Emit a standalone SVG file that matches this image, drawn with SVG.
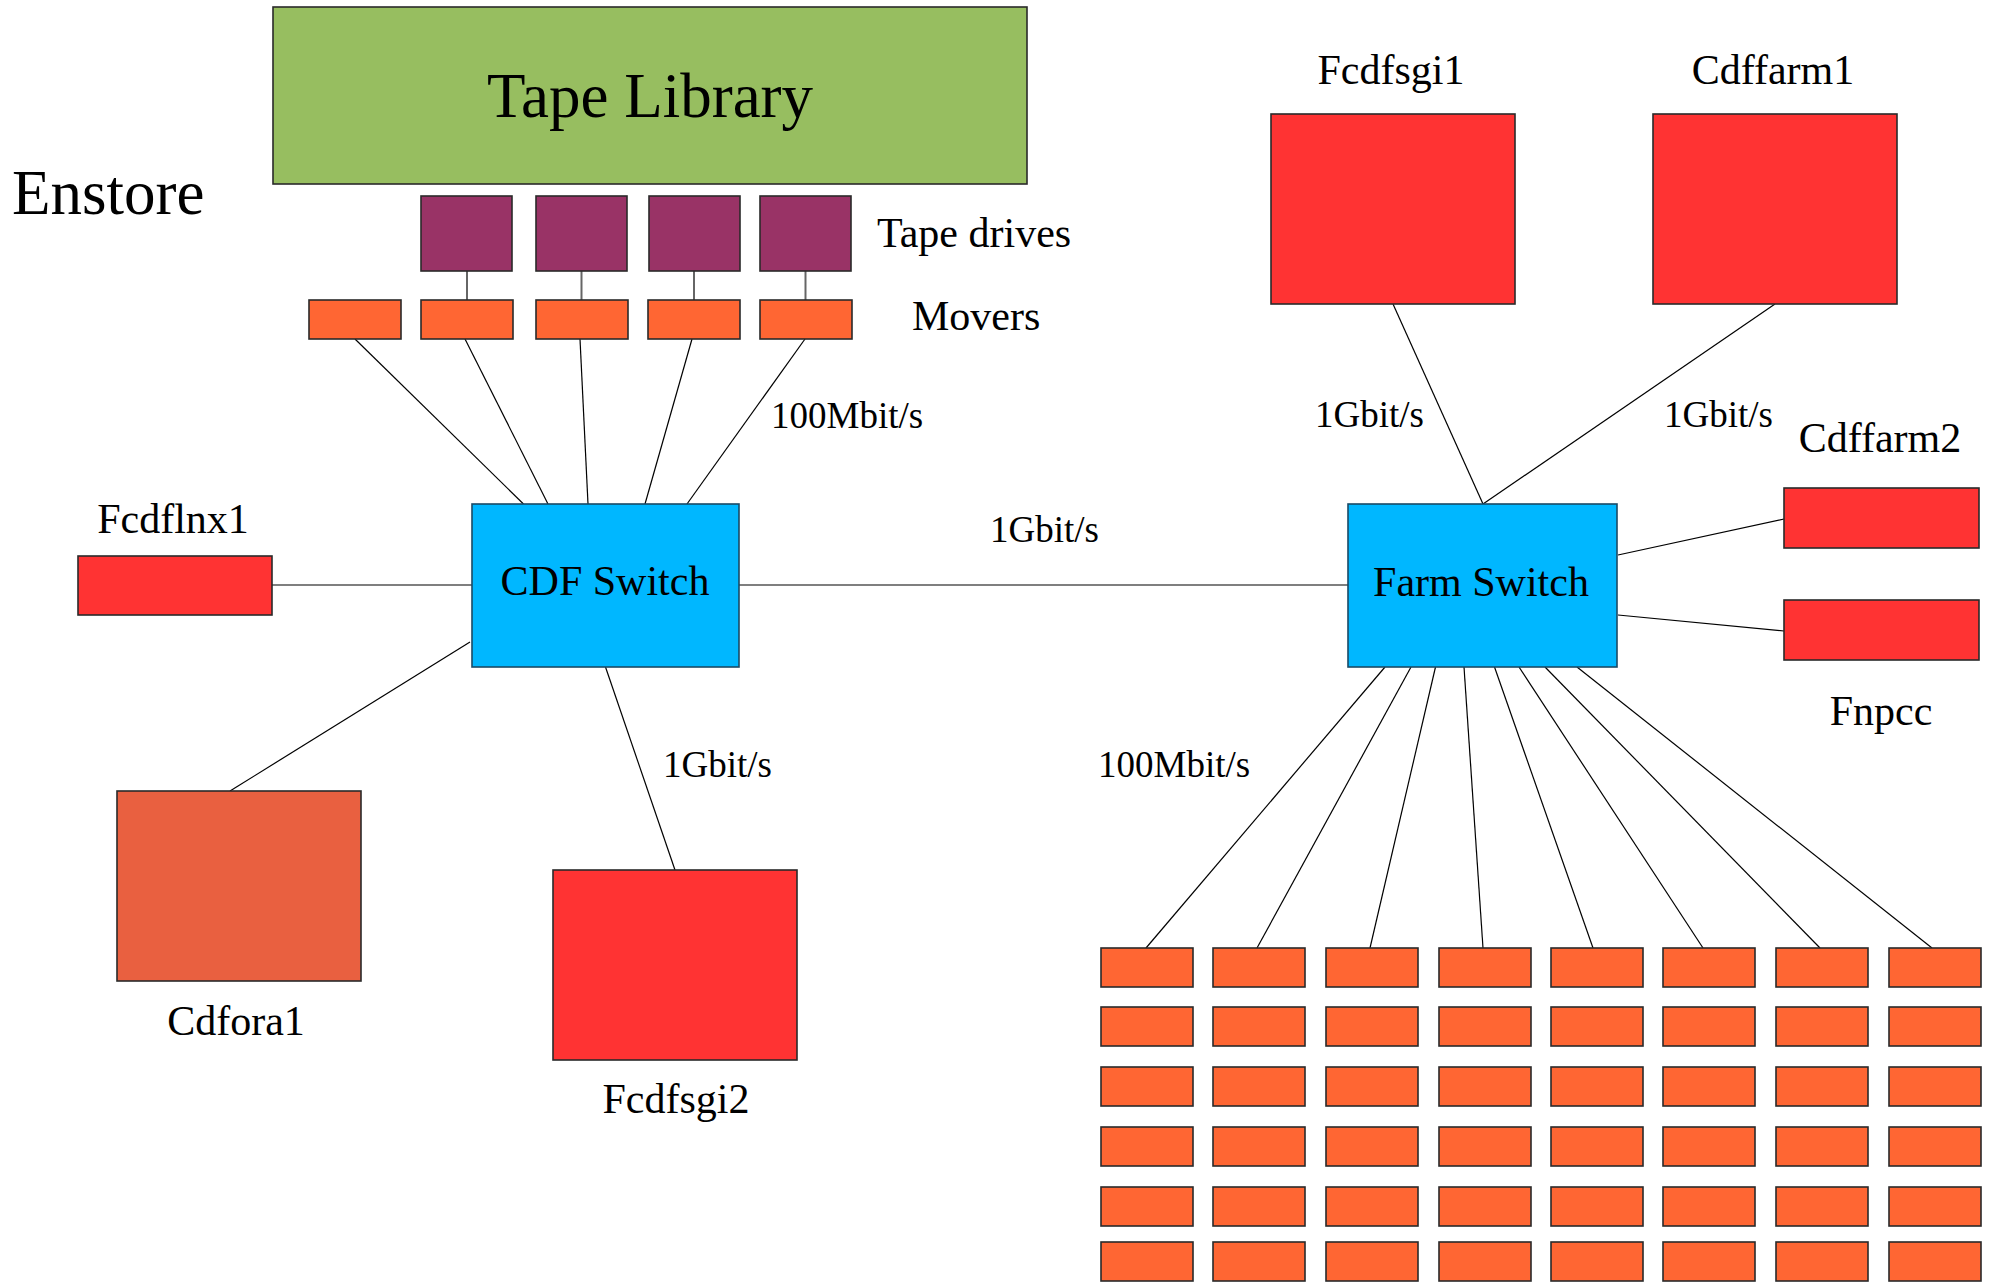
<svg xmlns="http://www.w3.org/2000/svg" width="1992" height="1283" viewBox="0 0 1992 1283">
<style>
text{font-family:"Liberation Serif","Times New Roman",serif;fill:#000}
.big{font-size:63px}
.lbl{font-size:42px}
.lnk{font-size:37px}
.mid{text-anchor:middle}
rect{stroke:#2a2a2a;stroke-width:1.6}
.lib{fill:#97BE60}
.drv{fill:#993366}
.mov{fill:#FF6633}
.red{fill:#FF3333}
.ora{fill:#E96040}
.sw{fill:#00B7FF;stroke:#1a4a66}
#connectors line{stroke:#000;stroke-width:1.2}
#connectors line.v{stroke:#666;stroke-width:2}
</style>
<defs>
<rect id="m" width="92" height="39" class="mov"/>
</defs>
<g id="connectors">
<line class="v" x1="467" y1="271" x2="467" y2="300"/>
<line class="v" x1="581.5" y1="271" x2="581.5" y2="300"/>
<line class="v" x1="694" y1="271" x2="694" y2="300"/>
<line class="v" x1="805.5" y1="271" x2="805.5" y2="300"/>
<line x1="355" y1="339" x2="523.5" y2="504"/>
<line x1="465" y1="339" x2="548" y2="504"/>
<line x1="580" y1="339" x2="588" y2="504"/>
<line x1="692" y1="339" x2="645" y2="504"/>
<line x1="805" y1="339" x2="687" y2="504"/>
<line x1="272" y1="585" x2="472" y2="585"/>
<line x1="739" y1="585" x2="1348" y2="585"/>
<line x1="470" y1="642" x2="230" y2="791"/>
<line x1="605.5" y1="667" x2="675" y2="870"/>
<line x1="1393" y1="304" x2="1483" y2="504"/>
<line x1="1775" y1="304" x2="1483" y2="504"/>
<line x1="1618" y1="555" x2="1784" y2="519"/>
<line x1="1618" y1="615" x2="1784" y2="631"/>
<line x1="1385" y1="667" x2="1146" y2="948"/>
<line x1="1411" y1="667" x2="1257" y2="948"/>
<line x1="1435.5" y1="667" x2="1370" y2="948"/>
<line x1="1464" y1="667" x2="1483" y2="948"/>
<line x1="1494.5" y1="667" x2="1593" y2="948"/>
<line x1="1519" y1="667" x2="1703" y2="948"/>
<line x1="1545" y1="667" x2="1820" y2="948"/>
<line x1="1577" y1="667" x2="1932" y2="948"/>
</g>
<g id="tape-library"><rect class="lib" x="273" y="7" width="754" height="177"/><text class="big mid" x="650" y="117">Tape Library</text></g>
<text id="enstore" class="big" x="12" y="214">Enstore</text>
<g id="tape-drives">
<rect class="drv" x="421" y="196" width="91" height="75"/>
<rect class="drv" x="536" y="196" width="91" height="75"/>
<rect class="drv" x="649" y="196" width="91" height="75"/>
<rect class="drv" x="760" y="196" width="91" height="75"/>
<text class="lbl" x="877" y="247">Tape drives</text>
</g>
<g id="movers">
<use href="#m" x="309" y="300"/>
<use href="#m" x="421" y="300"/>
<use href="#m" x="536" y="300"/>
<use href="#m" x="648" y="300"/>
<use href="#m" x="760" y="300"/>
<text class="lbl" x="912" y="330">Movers</text>
</g>
<g id="cdf-switch"><rect class="sw" x="472" y="504" width="267" height="163"/><text class="lbl mid" x="605" y="595">CDF Switch</text></g>
<g id="farm-switch"><rect class="sw" x="1348" y="504" width="269" height="163"/><text class="lbl mid" x="1481" y="596">Farm Switch</text></g>
<g id="fcdflnx1"><rect class="red" x="78" y="556" width="194" height="59"/><text class="lbl mid" x="173" y="533">Fcdflnx1</text></g>
<g id="cdfora1"><rect class="ora" x="117" y="791" width="244" height="190"/><text class="lbl mid" x="236" y="1035">Cdfora1</text></g>
<g id="fcdfsgi2"><rect class="red" x="553" y="870" width="244" height="190"/><text class="lbl mid" x="676" y="1113">Fcdfsgi2</text></g>
<g id="fcdfsgi1"><rect class="red" x="1271" y="114" width="244" height="190"/><text class="lbl mid" x="1391" y="84">Fcdfsgi1</text></g>
<g id="cdffarm1"><rect class="red" x="1653" y="114" width="244" height="190"/><text class="lbl mid" x="1773" y="84">Cdffarm1</text></g>
<g id="cdffarm2"><rect class="red" x="1784" y="488" width="195" height="60"/><text class="lbl mid" x="1880" y="452">Cdffarm2</text></g>
<g id="fnpcc"><rect class="red" x="1784" y="600" width="195" height="60"/><text class="lbl mid" x="1881" y="725">Fnpcc</text></g>
<g id="link-labels">
<text class="lnk" x="771" y="428">100Mbit/s</text>
<text class="lnk" x="990" y="542">1Gbit/s</text>
<text class="lnk" x="663" y="777">1Gbit/s</text>
<text class="lnk" x="1315" y="427">1Gbit/s</text>
<text class="lnk" x="1664" y="427">1Gbit/s</text>
<text class="lnk" x="1098" y="777">100Mbit/s</text>
</g>
<g id="farm-nodes">
<use href="#m" x="1101" y="948"/><use href="#m" x="1213" y="948"/><use href="#m" x="1326" y="948"/><use href="#m" x="1439" y="948"/><use href="#m" x="1551" y="948"/><use href="#m" x="1663" y="948"/><use href="#m" x="1776" y="948"/><use href="#m" x="1889" y="948"/>
<use href="#m" x="1101" y="1007"/><use href="#m" x="1213" y="1007"/><use href="#m" x="1326" y="1007"/><use href="#m" x="1439" y="1007"/><use href="#m" x="1551" y="1007"/><use href="#m" x="1663" y="1007"/><use href="#m" x="1776" y="1007"/><use href="#m" x="1889" y="1007"/>
<use href="#m" x="1101" y="1067"/><use href="#m" x="1213" y="1067"/><use href="#m" x="1326" y="1067"/><use href="#m" x="1439" y="1067"/><use href="#m" x="1551" y="1067"/><use href="#m" x="1663" y="1067"/><use href="#m" x="1776" y="1067"/><use href="#m" x="1889" y="1067"/>
<use href="#m" x="1101" y="1127"/><use href="#m" x="1213" y="1127"/><use href="#m" x="1326" y="1127"/><use href="#m" x="1439" y="1127"/><use href="#m" x="1551" y="1127"/><use href="#m" x="1663" y="1127"/><use href="#m" x="1776" y="1127"/><use href="#m" x="1889" y="1127"/>
<use href="#m" x="1101" y="1187"/><use href="#m" x="1213" y="1187"/><use href="#m" x="1326" y="1187"/><use href="#m" x="1439" y="1187"/><use href="#m" x="1551" y="1187"/><use href="#m" x="1663" y="1187"/><use href="#m" x="1776" y="1187"/><use href="#m" x="1889" y="1187"/>
<use href="#m" x="1101" y="1242"/><use href="#m" x="1213" y="1242"/><use href="#m" x="1326" y="1242"/><use href="#m" x="1439" y="1242"/><use href="#m" x="1551" y="1242"/><use href="#m" x="1663" y="1242"/><use href="#m" x="1776" y="1242"/><use href="#m" x="1889" y="1242"/>
</g>
</svg>
